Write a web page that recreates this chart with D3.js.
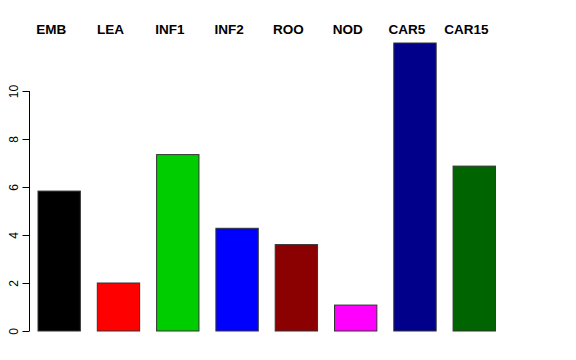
<!DOCTYPE html>
<html><head><meta charset="utf-8">
<script src="https://cdn.jsdelivr.net/npm/d3@7"></script>
<style>body{margin:0;background:#fff}svg{display:block}</style>
</head><body><svg id="c" width="576" height="360"></svg>
<script>
const categories = ["EMB","LEA","INF1","INF2","ROO","NOD","CAR5","CAR15"];
const values = [5.83, 2.0, 7.35, 4.28, 3.6, 1.08, 12.0, 6.87];
const colors = ["#000000","#FF0000","#00CD00","#0000FF","#8B0000","#FF00FF","#00008B","#006400"];
const yTicks = [0,2,4,6,8,10];

const svg = d3.select("#c");
const y = d3.scaleLinear().domain([0,10]).range([331,91]);
// R barplot: width 1, space 0.4
const x = d3.scaleLinear().domain([0.4, 11.6]).range([38, 38 + 11.2*59.3/1.4]);

svg.selectAll("rect.bar").data(values).enter().append("rect")
  .attr("x", (d,i)=>x(0.4 + i*1.4))
  .attr("width", (d,i)=>x(1.4 + i*1.4) - x(0.4 + i*1.4))
  .attr("y", d=>y(d))
  .attr("height", d=>y(0)-y(d))
  .attr("fill", (d,i)=>colors[i])
  .attr("stroke", "#333")
  .attr("stroke-width", 1);

const ax = svg.append("g").attr("transform","translate(29.5,0)")
  .call(d3.axisLeft(y).tickValues(yTicks).tickSize(7).tickPadding(0).tickFormat(d3.format("d")));
ax.select(".domain").attr("d","M0,"+y(0)+"V"+y(10)).attr("stroke","#000");
ax.selectAll(".tick line").attr("stroke","#000");
ax.selectAll(".tick text").attr("transform","translate(-16,0) rotate(-90)")
  .attr("text-anchor","middle").attr("dy","0.35em").attr("x",0)
  .style("font-family","Liberation Sans, Arial, sans-serif").style("font-size","12px").attr("fill","#000");

svg.selectAll("text.lab").data(categories).enter().append("text")
  .attr("x", (d,i)=>x(0.9 + i*1.4) - 8)
  .attr("y", 34)
  .attr("text-anchor","middle")
  .style("font-family","Liberation Sans, Arial, sans-serif")
  .style("font-weight","bold").style("font-size","13.5px")
  .text(d=>d);
</script></body></html>
